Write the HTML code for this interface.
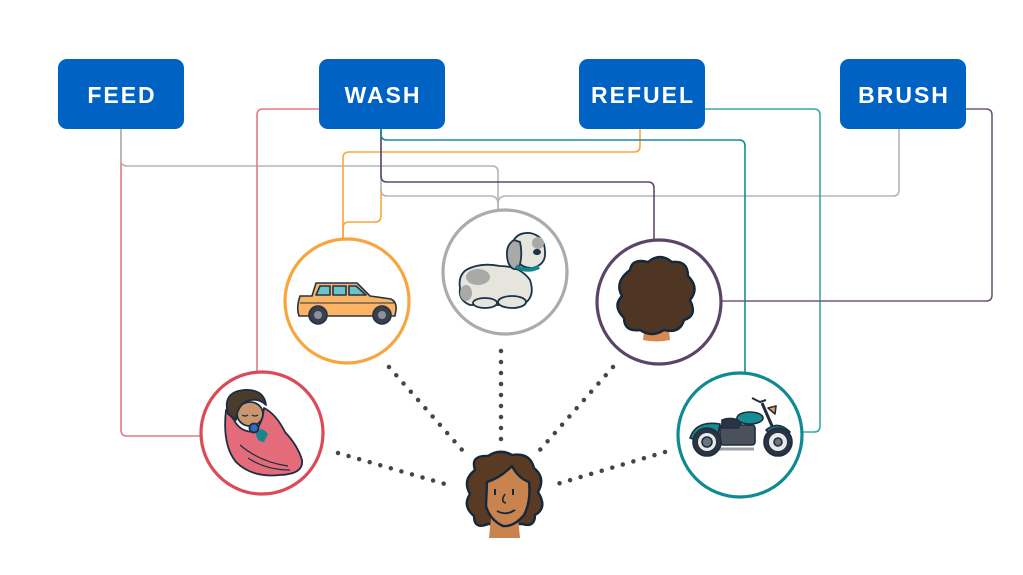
<!DOCTYPE html>
<html><head><meta charset="utf-8"><style>
html,body{margin:0;padding:0;background:#fff;}
svg{display:block;}
text{font-family:"Liberation Sans",Arial,sans-serif;font-weight:bold;}
</style></head><body>
<svg width="1023" height="575" viewBox="0 0 1023 575" xmlns="http://www.w3.org/2000/svg">
<rect width="1023" height="575" fill="#fff"/>
<g fill="none" stroke-width="1.6">
  <!-- FEED red -->
  <path d="M121,129 V430 Q121,436 127,436 H200" stroke="#E57A86"/>
  <!-- FEED gray -->
  <path d="M121,129 V160 Q121,166 127,166 H492 Q498,166 498,172 V209" stroke="#B5B5B5"/>
  <!-- WASH red -->
  <path d="M319,109 H263 Q257,109 257,115 V372" stroke="#E57A86"/>
  <!-- REFUEL orange -->
  <path d="M640,129 V146 Q640,152 634,152 H349 Q343,152 343,158 V240" stroke="#F9A53E"/>
  <!-- WASH orange -->
  <path d="M381,186 V216 Q381,222 375,222 H349 Q343,222 343,228 V240" stroke="#F9A53E"/>
  <!-- BRUSH gray -->
  <path d="M899,129 V190 Q899,196 893,196 H506 Q498,196 498,204 V209" stroke="#B5B5B5"/>
  <!-- WASH gray -->
  <path d="M381,129 V190 Q381,196 387,196 H490 Q498,196 498,204" stroke="#B5B5B5"/>
  <!-- WASH purple -->
  <path d="M381,129 V176 Q381,182 387,182 H648 Q654,182 654,188 V240" stroke="#5E4A6B"/>
  <!-- WASH teal -->
  <path d="M381,129 V134 Q381,140 387,140 H739 Q745,140 745,146 V373" stroke="#138D95"/>
  <!-- REFUEL teal -->
  <path d="M705,109 H814 Q820,109 820,115 V426 Q820,432 814,432 H803" stroke="#3EA6AD"/>
  <!-- BRUSH purple -->
  <path d="M966,109 H986 Q992,109 992,115 V295 Q992,301 986,301 H721" stroke="#6E5A7A"/>
</g>

<!-- Buttons -->
<g fill="#0063C3">
  <rect x="58" y="59" width="126" height="70" rx="9"/>
  <rect x="319" y="59" width="126" height="70" rx="9"/>
  <rect x="579" y="59" width="126" height="70" rx="9"/>
  <rect x="840" y="59" width="126" height="70" rx="9"/>
</g>
<g fill="#fff" font-size="23" text-anchor="middle" letter-spacing="2">
  <text x="122" y="103">FEED</text>
  <text x="383" y="103">WASH</text>
  <text x="643" y="103">REFUEL</text>
  <text x="904" y="103">BRUSH</text>
</g>

<!-- Dotted rays -->
<g stroke="#454545" stroke-width="4.5" stroke-linecap="round" stroke-dasharray="0 11">
  <line x1="501" y1="351" x2="501" y2="441"/>
  <line x1="613" y1="367" x2="539" y2="451"/>
  <line x1="665" y1="452" x2="557" y2="484"/>
  <line x1="389" y1="367" x2="463" y2="451"/>
  <line x1="338" y1="453" x2="445" y2="484"/>
</g>

<!-- Circles -->
<g fill="#fff" stroke-width="3.2">
  <circle cx="347" cy="301" r="62" stroke="#F9A53E"/>
  <circle cx="505" cy="272" r="62" stroke="#ABABAB"/>
  <circle cx="659" cy="302" r="62" stroke="#5A4566"/>
  <circle cx="262" cy="433" r="61" stroke="#DC4A58"/>
  <circle cx="740" cy="435" r="62" stroke="#0E8A93"/>
</g>

<!-- Car -->
<g stroke="#23344A" stroke-width="1.6" stroke-linejoin="round">
  <path d="M300,296 L312,296 L316,283 L357,283 L370,296 L391,299 Q397,302 396,310 L395,316 L299,316 Q296,308 300,296 Z" fill="#FBB463"/>
  <path d="M316,295 L320,286 L330,286 L330,295 Z" fill="#6CC3C8"/>
  <rect x="333" y="286" width="13" height="9" fill="#6CC3C8"/>
  <path d="M349,286 L356,286 L366,295 L349,295 Z" fill="#6CC3C8"/>
  <line x1="300" y1="303" x2="394" y2="303" stroke-width="1"/>
  <circle cx="318" cy="315" r="9" fill="#3B3F4A"/>
  <circle cx="318" cy="315" r="4" fill="#8C9099" stroke="none"/>
  <circle cx="382" cy="315" r="9" fill="#3B3F4A"/>
  <circle cx="382" cy="315" r="4" fill="#8C9099" stroke="none"/>
</g>

<!-- Dog -->
<g stroke="#1E3347" stroke-width="1.8" stroke-linejoin="round">
  <path d="M466,270 Q480,262 500,266 Q520,266 530,280 Q536,298 522,305 L470,305 Q458,300 460,288 Q458,276 466,270 Z" fill="#E5E4DD"/>
  <ellipse cx="478" cy="277" rx="12" ry="8" fill="#A9AAA8" stroke="none"/>
  <ellipse cx="466" cy="293" rx="6" ry="8" fill="#A9AAA8" stroke="none"/>
  <path d="M512,245 Q515,232 530,233 Q545,236 545,252 Q546,265 532,268 Q520,268 516,258 Z" fill="#E5E4DD"/>
  <ellipse cx="538" cy="243" rx="6" ry="6" fill="#A9AAA8" stroke="none"/>
  <path d="M514,240 Q504,246 508,262 Q512,272 519,268 Q523,255 520,242 Z" fill="#A9AAA8"/>
  <ellipse cx="537" cy="252" rx="3" ry="2.2" fill="#1E3347"/>
  <path d="M516,266 Q526,273 539,267" fill="none" stroke="#16858D" stroke-width="4"/>
  <ellipse cx="512" cy="302" rx="14" ry="6" fill="#E5E4DD"/>
  <ellipse cx="485" cy="303" rx="12" ry="5" fill="#E5E4DD"/>
</g>

<!-- Purple circle hair -->
<g stroke="#13283D" stroke-width="2.4" stroke-linejoin="round">
  <path d="M645,322 L643,340 Q656,343 670,340 L668,322 Z" fill="#D9884F" stroke="none"/>
  <path d="M630,270 Q632,258 648,262 Q660,252 672,262 Q688,260 688,276 Q700,288 690,300 Q698,316 684,320 Q680,334 664,330 Q652,338 640,330 Q624,332 624,318 Q612,306 622,296 Q614,282 630,270 Z" fill="#4E3524"/>
</g>

<!-- Baby -->
<g stroke="#1D2E40" stroke-width="1.8" stroke-linejoin="round">
  <path d="M226,410 Q222,445 236,462 Q252,478 280,475 Q304,474 302,460 Q298,446 285,432 Q276,414 264,408 Q262,425 254,432 Q240,432 234,420 Z" fill="#E46C7A"/>
  <ellipse cx="250" cy="414" rx="13" ry="12" fill="#C99670"/>
  <path d="M228,414 Q222,392 244,390 Q264,389 266,405 Q258,397 247,401 Q237,406 236,420 Z" fill="#4A3B2D"/>
  <path d="M256,432 Q262,426 268,434 L264,442 Q256,442 256,432 Z" fill="#16858D" stroke="none"/>
  <circle cx="254" cy="428" r="4.5" fill="#2A6FC4"/>
  <path d="M242,415 q3,2 6,0 M252,415 q3,2 6,0" fill="none" stroke-width="1.2"/>
  <path d="M240,445 Q260,462 288,466 M248,458 Q266,470 290,470" fill="none" stroke-width="1.2"/>
</g>

<!-- Motorcycle -->
<g stroke="#1F2E3F" stroke-width="1.6" stroke-linejoin="round">
  <path d="M690,438 Q696,420 720,424 L718,434 Q702,430 696,440 Z" fill="#198B93"/>
  <rect x="720" y="425" width="35" height="20" rx="3" fill="#4A515B"/>
  <path d="M722,420 Q732,416 742,422 L738,428 L722,428 Z" fill="#2B3442"/>
  <ellipse cx="750" cy="418" rx="13" ry="6" fill="#198B93"/>
  <line x1="762" y1="403" x2="779" y2="442" stroke-width="3"/>
  <path d="M752,398 L760,402 L766,400" fill="none" stroke-width="2"/>
  <path d="M768,408 L776,406 L775,414 Z" fill="#F2A14A"/>
  <path d="M766,430 Q778,420 790,432 L786,434 Q778,428 770,434 Z" fill="#198B93"/>
  <line x1="708" y1="449" x2="754" y2="449" stroke="#9AA0A6" stroke-width="3"/>
  <circle cx="707" cy="442" r="14" fill="#2B3442"/>
  <circle cx="707" cy="442" r="9" fill="#E8EAEC" stroke="none"/>
  <circle cx="707" cy="442" r="5" fill="#6B7580"/>
  <circle cx="778" cy="442" r="14" fill="#2B3442"/>
  <circle cx="778" cy="442" r="9" fill="#E8EAEC" stroke="none"/>
  <circle cx="778" cy="442" r="4" fill="#6B7580"/>
</g>

<!-- Woman -->
<g stroke="#13283D" stroke-width="2.4" stroke-linejoin="round">
  <path d="M475,470 Q470,455 488,456 Q500,448 512,455 Q530,452 534,468 Q546,478 538,492 Q548,508 535,515 Q535,528 522,524 L488,524 Q474,530 474,516 Q462,506 470,494 Q462,480 475,470 Z" fill="#5A3A22"/>
  <path d="M491,518 L489,538 L520,538 L518,518 Z" fill="#C9834F" stroke="none"/>
  <path d="M487,482 Q500,478 512,466 Q518,478 529,482 Q531,502 524,515 Q514,527 503,526 Q490,520 486,506 Z" fill="#C9834F"/>
  <path d="M495,489 v6 M513,489 v6" stroke-width="2"/>
  <path d="M505,494 Q500,502 506,503" fill="none" stroke-width="1.6"/>
  <path d="M497,511 Q506,516 515,510" fill="none" stroke-width="1.8"/>
</g>
</svg>
</body></html>
